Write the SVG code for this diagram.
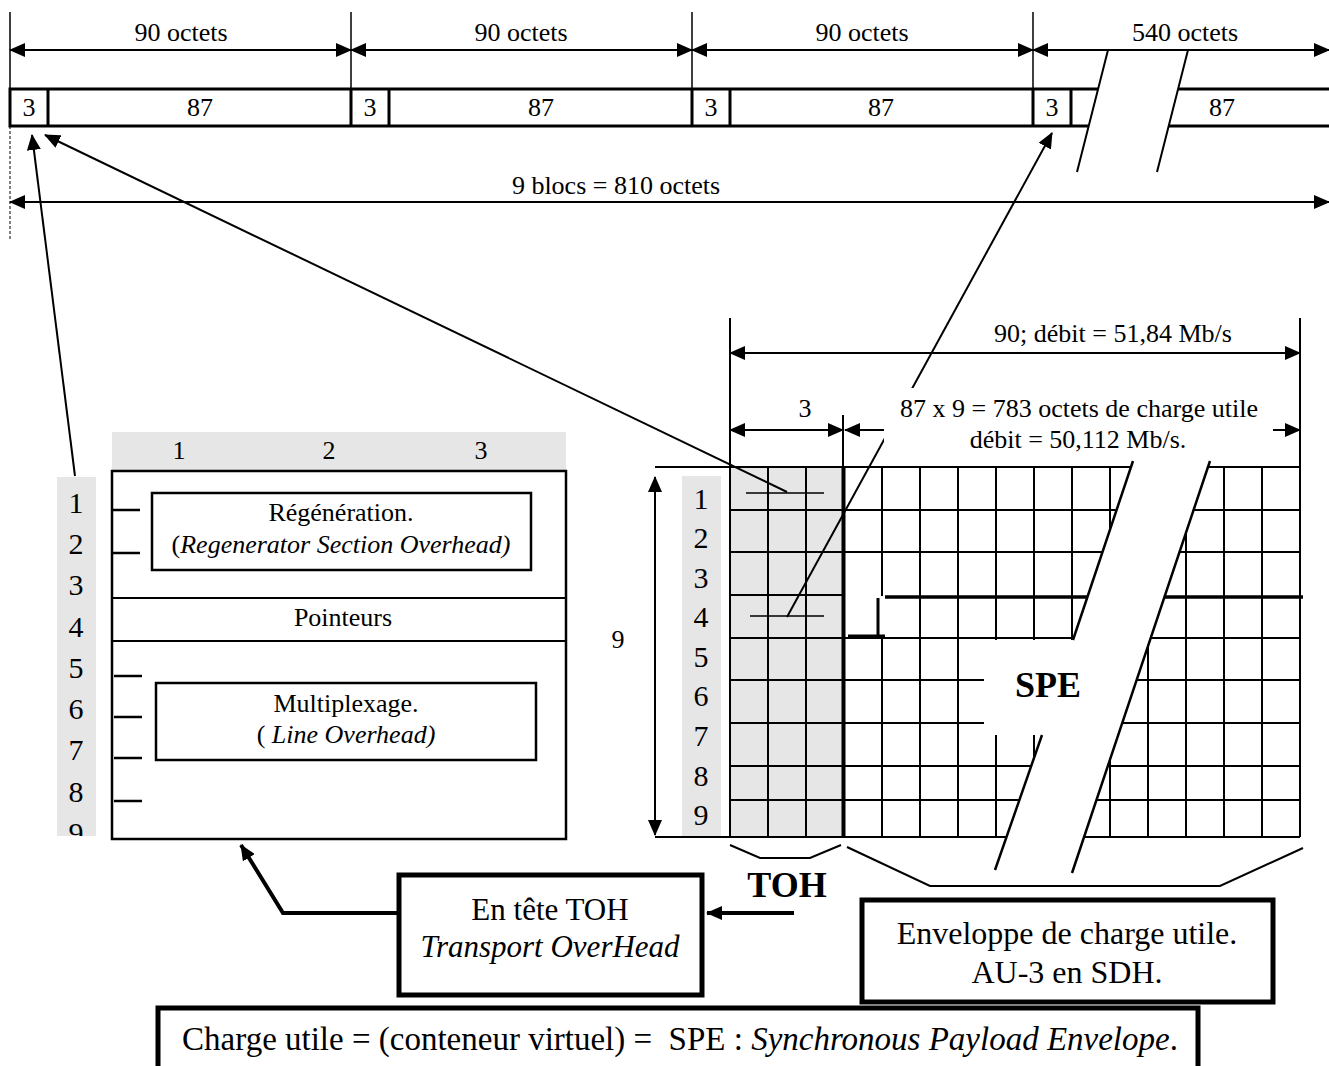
<svg xmlns="http://www.w3.org/2000/svg" width="1329" height="1066" viewBox="0 0 1329 1066">
<style>
text{font-family:"Liberation Serif","Times New Roman",serif;fill:#000}
.t26{font-size:26px}
.n30{font-size:30px}
.c{text-anchor:middle}
.i{font-style:italic}
.ln{stroke:#000;stroke-width:2;fill:none}
.thin{stroke:#000;stroke-width:1.5;fill:none}
.thk{stroke:#000;stroke-width:3;fill:none}
.bx{stroke:#000;stroke-width:5;fill:#fff}
.arr{marker-start:url(#ah);marker-end:url(#ah)}
.arrE{marker-end:url(#ah)}
.gray{fill:#e6e6e6}
.wh{fill:#fff;stroke:none}
</style>
<defs>
<marker id="ah" viewBox="0 0 16 14" refX="15" refY="7" markerWidth="16" markerHeight="14" markerUnits="userSpaceOnUse" orient="auto-start-reverse"><path d="M0,0L16,7L0,14z" fill="#000"/></marker>
<clipPath id="cl"><rect x="57" y="477" width="39" height="359"/></clipPath>
</defs>
<rect width="1329" height="1066" fill="#fff"/>

<g id="top-frame">
<path class="thin" d="M10,12V89M351,12V89M692,12V89M1033,12V89"/>
<path class="ln arr" d="M10,50H351"/>
<path class="ln arr" d="M351,50H692"/>
<path class="ln arr" d="M692,50H1033"/>
<path class="ln arr" d="M1033,50H1329"/>
<text class="t26 c" x="181" y="41">90 octets</text>
<text class="t26 c" x="521" y="41">90 octets</text>
<text class="t26 c" x="862" y="41">90 octets</text>
<text class="t26 c" x="1185" y="41">540 octets</text>
<path class="thk" d="M1329,89H10V126H1329M48,89V126M351,89V126M389,89V126M692,89V126M730,89V126M1033,89V126M1071,89V126"/>
<polygon class="wh" points="1107,55 1187,55 1157,172 1077,172"/>
<path class="ln" d="M1108,50L1077,172M1188,50L1157,172"/>
<text class="t26 c" x="29" y="116">3</text>
<text class="t26 c" x="200" y="116">87</text>
<text class="t26 c" x="370" y="116">3</text>
<text class="t26 c" x="541" y="116">87</text>
<text class="t26 c" x="711" y="116">3</text>
<text class="t26 c" x="881" y="116">87</text>
<text class="t26 c" x="1052" y="116">3</text>
<text class="t26 c" x="1222" y="116">87</text>
<path d="M10,126V240" stroke="#000" stroke-width="1" stroke-dasharray="3,2" fill="none"/>
<path class="ln arr" d="M10,202H1329"/>
<text class="t26 c" x="616" y="194">9 blocs = 810 octets</text>
</g>

<g id="toh-table">
<rect class="gray" x="112" y="432" width="454" height="39"/>
<text class="t26 c" x="179" y="459">1</text>
<text class="t26 c" x="329" y="459">2</text>
<text class="t26 c" x="481" y="459">3</text>
<rect class="gray" x="57" y="477" width="39" height="359"/>
<g class="n30 c" clip-path="url(#cl)">
<text x="76" y="513">1</text><text x="76" y="554">2</text><text x="76" y="595">3</text>
<text x="76" y="637">4</text><text x="76" y="678">5</text><text x="76" y="719">6</text>
<text x="76" y="760">7</text><text x="76" y="802">8</text><text x="76" y="843">9</text>
</g>
<rect x="112" y="471" width="454" height="368" fill="none" stroke="#000" stroke-width="2.5"/>
<path class="ln" d="M112,598H566M112,641H566"/>
<path stroke="#000" stroke-width="2.5" d="M112,510H140M112,553H140M114,676H142M114,717H142M114,758H142M114,801H142"/>
<rect x="152" y="493" width="379" height="77" fill="none" stroke="#000" stroke-width="2.5"/>
<text class="t26 c" x="341" y="521">Régénération.</text>
<text class="t26 c" x="341" y="553">(<tspan class="i">Regenerator Section Overhead)</tspan></text>
<text class="t26 c" x="343" y="626">Pointeurs</text>
<rect x="156" y="683" width="380" height="77" fill="none" stroke="#000" stroke-width="2.5"/>
<text class="t26 c" x="346" y="712">Multiplexage.</text>
<text class="t26 c" x="346" y="743" xml:space="preserve">( <tspan class="i">Line Overhead)</tspan></text>
</g>

<g id="frame-grid">
<rect class="gray" x="730" y="467" width="113" height="370"/>
<rect class="gray" x="682" y="476" width="39" height="361"/>
<g class="n30 c">
<text x="701" y="509">1</text><text x="701" y="548">2</text><text x="701" y="588">3</text>
<text x="701" y="627">4</text><text x="701" y="667">5</text><text x="701" y="706">6</text>
<text x="701" y="746">7</text><text x="701" y="786">8</text><text x="701" y="825">9</text>
</g>
<path class="ln" d="M655,467H1300M655,837H1300M730,510H1300M730,552H1300M730,595H843M730,638H1300M730,680H1300M730,723H1300M730,766H1300M730,800H1300
M730,318V837M1300,318V837M768,467V837M806,467V837M882,467V596M882,637V837M920,467V837M958,467V837M996,467V837M1034,467V837M1072,467V837M1110,467V837M1148,467V837M1186,467V837M1224,467V837M1262,467V837M843,415V467"/>
<path stroke="#000" stroke-width="4" d="M843.5,467V837"/>
<path stroke="#000" stroke-width="3.5" d="M885,597H1303"/>
<path stroke="#000" stroke-width="3" fill="none" d="M878,598V636M848,636H885"/>
<polygon class="wh" points="1133,458 1210,458 1072,873 995,873"/>
<rect class="wh" x="984" y="640" width="100" height="95"/>
<path stroke="#000" stroke-width="2.5" fill="none" d="M1133,461L1073,640M1042,735L995,870M1210,461L1072,873"/>
<text x="1048" y="697" font-size="36" font-weight="bold" class="c">SPE</text>
<path class="thin" d="M746,493H824M750,616H824"/>
<path class="ln arr" d="M655,477V835" style="marker-start:url(#ah);marker-end:url(#ah)"/>
<text class="t26 c" x="618" y="648">9</text>
<path class="ln arr" d="M730,353H1300"/>
<text class="t26 c" x="1113" y="342">90; débit = 51,84 Mb/s</text>
<path class="ln arr" d="M730,430H843"/>
<text class="t26 c" x="805" y="417">3</text>
<path class="ln" d="M730,467L730,467"/>
</g>

<g id="connectors">
<path class="ln arrE" stroke-width="2.5" d="M75,476L32,135"/>
<path class="ln arrE" stroke-width="2.5" d="M787,492L45,135"/>
<path class="ln arrE" stroke-width="2.5" d="M787,617L1052,133"/>
<path class="ln" d="M884,430H845" style="marker-end:url(#ah)"/>
<path class="ln arrE" d="M1273,430H1300"/>
<path stroke="#000" stroke-width="4" fill="none" d="M399,913H283L241,845" style="marker-end:url(#ah)"/>
<path stroke="#000" stroke-width="4" fill="none" d="M794,913H707" style="marker-end:url(#ah)"/>
<path class="ln" d="M730,845L760,858H810L841,845"/>
<path class="ln" d="M847,847L930,886H1220L1303,848"/>
</g>

<g id="payload-label">
<rect class="wh" x="884" y="388" width="389" height="68"/>
<text class="t26 c" x="1079" y="417">87 x 9 = 783 octets de charge utile</text>
<text class="t26 c" x="1078" y="448">débit = 50,112 Mb/s.</text>
</g>

<g id="toh-label">
<text x="787" y="897" font-size="36" font-weight="bold" class="c">TOH</text>
</g>

<g id="box-toh">
<rect class="bx" x="399" y="875" width="303" height="120"/>
<text class="c" x="550" y="920" font-size="31">En tête TOH</text>
<text class="c i" x="550" y="957" font-size="31">Transport OverHead</text>
</g>

<g id="box-envelope">
<rect class="bx" x="862" y="900" width="411" height="102"/>
<text class="c" x="1067" y="944" font-size="32">Enveloppe de charge utile.</text>
<text class="c" x="1067" y="983" font-size="32">AU-3 en SDH.</text>
</g>

<g id="box-charge">
<rect class="bx" x="158" y="1008" width="1040" height="80"/>
<text class="c" x="680" y="1050" font-size="33" xml:space="preserve">Charge utile = (conteneur virtuel) =  SPE : <tspan class="i">Synchronous Payload Envelope</tspan>.</text>
</g>
</svg>
